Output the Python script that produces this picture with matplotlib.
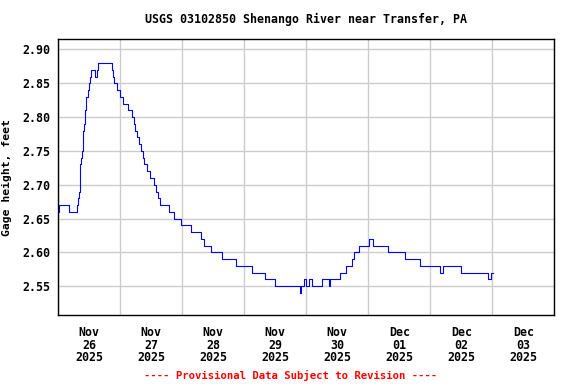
import matplotlib
matplotlib.use('Agg')
import matplotlib.pyplot as plt
import matplotlib.dates as mdates
import numpy as np
import pandas as pd

# Hours after 2025-11-26 00:00 at which the gage reading changes (step series)
hours = [0.0, 0.39, 4.14, 7.08, 7.74, 8.13, 8.28, 8.40, 8.59, 8.79, 9.10, 9.41,
         9.60, 9.75, 10.06, 10.26, 10.45, 10.57, 10.72, 11.34, 11.81, 12.27,
         12.77, 14.21, 14.83, 15.21, 20.63, 21.17, 21.68, 22.57, 23.88, 25.16,
         26.83, 28.53, 29.15, 29.81, 30.47, 31.08, 32.01, 32.63, 33.29, 34.18,
         35.61, 37.16, 37.82, 38.71, 39.48, 42.70, 44.63, 47.50, 51.37, 55.35,
         56.25, 58.95, 63.21, 68.79, 74.83, 80.01, 84.00, 93.68, 93.95, 95.23,
         95.88, 97.05, 98.32, 102.08, 104.63, 105.17, 108.89, 111.37, 113.54,
         114.58, 116.52, 120.12, 121.94, 127.47, 134.32, 140.13, 147.60, 148.92,
         155.88, 166.45, 167.61, 168.39]
gage = [2.66, 2.67, 2.66, 2.67, 2.68, 2.69, 2.70, 2.72, 2.73, 2.74, 2.75, 2.76,
        2.77, 2.78, 2.79, 2.80, 2.81, 2.82, 2.83, 2.84, 2.85, 2.86,
        2.87, 2.86, 2.87, 2.88, 2.87, 2.86, 2.85, 2.84, 2.83, 2.82,
        2.81, 2.80, 2.79, 2.78, 2.77, 2.76, 2.75, 2.74, 2.73, 2.72,
        2.71, 2.70, 2.69, 2.68, 2.67, 2.66, 2.65, 2.64, 2.63, 2.62,
        2.61, 2.60, 2.59, 2.58, 2.57, 2.56, 2.55, 2.54, 2.55, 2.56,
        2.55, 2.56, 2.55, 2.56, 2.55, 2.56, 2.57, 2.58, 2.59,
        2.60, 2.61, 2.62, 2.61, 2.60, 2.59, 2.58, 2.57, 2.58,
        2.57, 2.56, 2.57, 2.57]
yticks = [2.55, 2.60, 2.65, 2.70, 2.75, 2.80, 2.85, 2.90]

start = pd.Timestamp('2025-11-26 00:00')
times = start + pd.to_timedelta(hours, unit='h')

mono = 'DejaVu Sans Mono'
plt.rcParams['font.family'] = mono
plt.rcParams['font.weight'] = 'bold'

fig = plt.figure(figsize=(5.76, 3.84), dpi=100)
ax = fig.add_axes([58.3 / 576, 1 - 315.3 / 384, 496 / 576, 276 / 384])

ax.plot(times, gage, color='#0000ff', linewidth=0.8, drawstyle='steps-post')

ax.set_xlim(start, start + pd.Timedelta(days=8))
ax.set_ylim(2.507, 2.915)
ax.set_yticks(yticks)
ax.yaxis.set_major_formatter(plt.FormatStrFormatter('%.2f'))

# gridlines at midnight, labels at noon
ax.xaxis.set_major_locator(mdates.DayLocator())
ax.xaxis.set_major_formatter(plt.NullFormatter())
ax.xaxis.set_minor_locator(mdates.HourLocator(byhour=[12]))
ax.xaxis.set_minor_formatter(mdates.DateFormatter('%b\n%d\n%Y'))

ax.grid(True, which='major', color='#cccccc', linewidth=1.0)
ax.set_axisbelow(True)
ax.tick_params(axis='both', which='both', length=0, labelsize=8.4)
ax.tick_params(axis='y', pad=6)
ax.tick_params(axis='x', which='minor', pad=8)
for lab in ax.get_xticklabels(minor=True):
    lab.set_linespacing(0.95)
    lab.set_fontweight('bold')
for lab in ax.get_yticklabels():
    lab.set_fontweight('bold')

for sp in ax.spines.values():
    sp.set_linewidth(1.0)
    sp.set_color('black')

ax.set_ylabel('Gage height, feet', fontsize=8.2, fontweight='bold')
ax.yaxis.set_label_coords((12 - 58.3) / 496, 0.5)

fig.text(306 / 576, 1 - 19 / 384, 'USGS 03102850 Shenango River near Transfer, PA',
         ha='center', va='center', fontsize=8.4, fontweight='bold')
fig.text(291 / 576, 1 - 375 / 384, '---- Provisional Data Subject to Revision ----',
         ha='center', va='center', fontsize=7.7, fontweight='bold', color='red')

fig.savefig('out.png', dpi=100)
